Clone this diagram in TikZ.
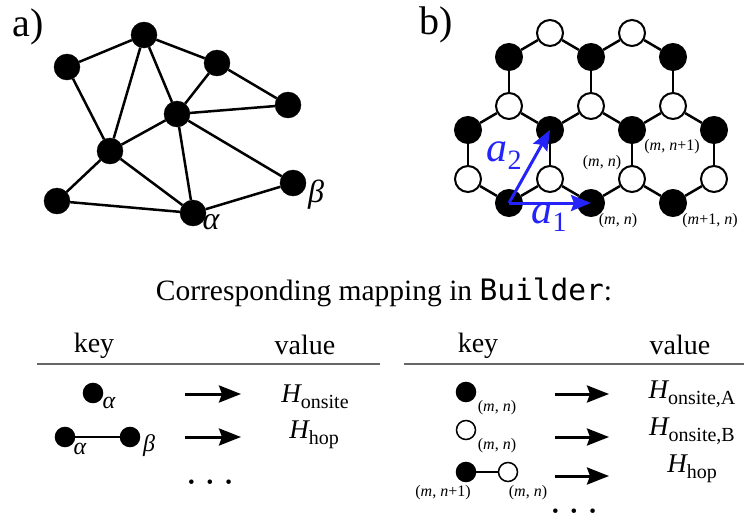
\documentclass[tikz,border=0pt]{standalone}
\usepackage{fontspec}
\setmainfont{Liberation Serif}
\setmonofont{DejaVu Sans Mono}
\usetikzlibrary{arrows.meta}
\definecolor{vecblue}{RGB}{35,35,250}
\newcommand\fsz[1]{\fontsize{#1}{#1}\selectfont}
\newcommand\Hsub[1]{{\itshape H}\raisebox{-5.5pt}{\fsz{20}#1}}
\newcommand\avec[1]{{\itshape a}\raisebox{-8pt}{\fsz{28}#1}}
\newcommand\dotrow{•\hspace{12pt}•\hspace{12pt}•}
\tikzset{
	site/.style={circle,draw,fill=black,inner sep=0pt,minimum size=26pt},
	asite/.style={circle,draw,line width=2pt,fill=black,inner sep=0pt,minimum size=26pt},
	bsite/.style={circle,draw,line width=2pt,fill=white,inner sep=0pt,minimum size=26pt},
	ksite/.style={circle,draw,line width=1.5pt,inner sep=0pt,minimum size=19pt},
	bond/.style={line width=2.5pt},
	vec/.style={draw=vecblue,line width=3pt,-{Stealth[length=20pt,width=16pt,inset=3pt]}},
	maps/.style={line width=3pt,-{Stealth[length=22pt,width=17pt,inset=3pt]}},
	idx/.style={font=\fsz{16}},
	head/.style={font=\fsz{28}},
	val/.style={font=\fsz{27}},
	more/.style={font=\fsz{19},inner sep=0pt,anchor=base},
}
\begin{document}
\begin{tikzpicture}[x=1pt,y=-1pt]
	\useasboundingbox (0,0) rectangle (744,522);
	% a) generic graph
	\node[font=\fsz{40}] (la) at (28,27) {a)};
	\node[site] (v1) at (144,35) {};
	\node[site] (v2) at (67,67) {};
	\node[site] (v3) at (217,63) {};
	\node[site] (v4) at (288,105) {};
	\node[site] (v5) at (177,114) {};
	\node[site] (v6) at (110,151) {};
	\node[site] (v7) at (293,183) {};
	\node[site] (v8) at (57,201) {};
	\node[site] (v9) at (193,213) {};
	\foreach \i/\j in {1/2,1/3,1/5,1/6,2/6,3/4,3/5,4/5,5/6,5/7,5/9,6/8,6/9,8/9,9/7}
		\draw[bond] (v\i) -- (v\j);
	\node[font=\fsz{32}\itshape] (lal) at (211,222) {α};
	\node[font=\fsz{32}\itshape] (lbe) at (316,195) {β};
	% b) honeycomb lattice
	\node[font=\fsz{40}] (lb) at (436,25) {b)};
	\node[bsite] (b1) at (550,33) {};
	\node[bsite] (b2) at (632,33) {};
	\node[asite] (a1) at (509,57) {};
	\node[asite] (a2) at (591,57) {};
	\node[asite] (a3) at (673,57) {};
	\node[bsite] (b3) at (509,106) {};
	\node[bsite] (b4) at (591,106) {};
	\node[bsite] (b5) at (673,106) {};
	\node[asite] (a4) at (468,130) {};
	\node[asite] (a5) at (550,130) {};
	\node[asite] (a6) at (632,130) {};
	\node[asite] (a7) at (714,130) {};
	\node[bsite] (b6) at (468,179) {};
	\node[bsite] (b7) at (550,179) {};
	\node[bsite] (b8) at (632,179) {};
	\node[bsite] (b9) at (714,179) {};
	\node[asite] (a8) at (509,203) {};
	\node[asite] (a9) at (591,203) {};
	\node[asite] (a10) at (673,203) {};
	\foreach \i/\j in {1/1,1/2,2/2,2/3,3/1,4/2,5/3,3/4,3/5,4/5,4/6,5/6,5/7,6/4,7/5,8/6,9/7,6/8,7/8,7/9,8/9,8/10,9/10}
		\draw[bond] (b\i) -- (a\j);
	\draw[vec] (a8.center) -- (a9.center);
	\draw[vec] (a8.center) -- (a5.center);
	\node[text=vecblue,font=\fsz{42}] (la1) at (549,218) {\avec{1}};
	\node[text=vecblue,font=\fsz{42}] (la2) at (504,156) {\avec{2}};
	\node[idx] (i1) at (602,163) {(\textit{m}, \textit{n})};
	\node[idx] (i2) at (672,147) {(\textit{m}, \textit{n}+1)};
	\node[idx] (i3) at (618,221) {(\textit{m}, \textit{n})};
	\node[idx] (i4) at (710,221) {(\textit{m}+1, \textit{n})};
	% title
	\node[font=\fsz{29.5}] (title) at (384,292) {Corresponding mapping in \texttt{Builder}:};
	% left table
	\node[head] (kl) at (94,346) {key};
	\node[head] (vl) at (305,345) {value};
	\coordinate (rl1) at (37,364);
	\coordinate (rl2) at (380,364);
	\draw[line width=1.5pt,black!60] (rl1) -- (rl2);
	\node[ksite,fill=black] (k1) at (93,393) {};
	\node[font=\fsz{24}\itshape] (k1a) at (109,403) {α};
	\node[ksite,fill=black] (k2) at (65,437) {};
	\node[ksite,fill=black] (k3) at (130,437) {};
	\draw[line width=2pt] (k2) -- (k3);
	\node[font=\fsz{24}\itshape] (k2a) at (80,449) {α};
	\node[font=\fsz{24}\itshape] (k3b) at (149,446) {β};
	\coordinate (ml1s) at (185,394);
	\coordinate (ml1e) at (241,394);
	\coordinate (ml2s) at (185,437);
	\coordinate (ml2e) at (241,437);
	\draw[maps] (ml1s) -- (ml1e);
	\draw[maps] (ml2s) -- (ml2e);
	\node[val] (h1) at (315,397) {\Hsub{onsite}};
	\node[val] (h2) at (314,435) {\Hsub{hop}};
	\node[more] (dl) at (210,488) {\dotrow};
	% right table
	\node[head] (kr) at (478,346) {key};
	\node[head] (vr) at (680,345) {value};
	\coordinate (rr1) at (404,364);
	\coordinate (rr2) at (744,364);
	\draw[line width=1.5pt,black!60] (rr1) -- (rr2);
	\node[ksite,fill=black] (q1) at (466,392) {};
	\node[idx] (q1i) at (497,408) {(\textit{m}, \textit{n})};
	\node[ksite,fill=white] (q2) at (466,430) {};
	\node[idx] (q2i) at (497,446) {(\textit{m}, \textit{n})};
	\node[ksite,fill=black] (q3) at (466,472) {};
	\node[ksite,fill=white] (q4) at (508,472) {};
	\draw[line width=2pt] (q3) -- (q4);
	\node[idx] (q3i) at (443,493) {(\textit{m}, \textit{n}+1)};
	\node[idx] (q4i) at (528,493) {(\textit{m}, \textit{n})};
	\coordinate (mr1s) at (555,394);
	\coordinate (mr1e) at (609,394);
	\coordinate (mr2s) at (555,437);
	\coordinate (mr2e) at (609,437);
	\coordinate (mr3s) at (555,476);
	\coordinate (mr3e) at (609,476);
	\draw[maps] (mr1s) -- (mr1e);
	\draw[maps] (mr2s) -- (mr2e);
	\draw[maps] (mr3s) -- (mr3e);
	\node[val] (g1) at (692,394) {\Hsub{onsite,A}};
	\node[val] (g2) at (692,431) {\Hsub{onsite,B}};
	\node[val] (g3) at (692,469) {\Hsub{hop}};
	\node[more] (dr) at (574,517) {\dotrow};
\end{tikzpicture}
\end{document}
